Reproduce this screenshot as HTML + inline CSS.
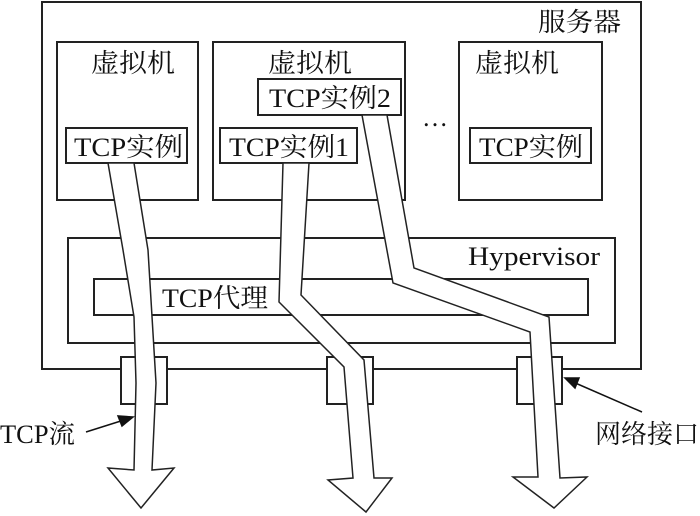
<!DOCTYPE html>
<html><head><meta charset="utf-8"><style>
html,body{margin:0;padding:0;background:#fff;}
svg{display:block;}
text{font-family:"Liberation Serif","Noto Serif CJK SC",serif;font-size:26px;fill:#111;}
</style></head><body>
<svg width="700" height="516" viewBox="0 0 700 516" xmlns="http://www.w3.org/2000/svg">
<g fill="none" stroke="#222" stroke-width="2">
<rect x="42" y="2" width="599" height="367"/>
<rect x="57" y="42" width="141" height="158"/>
<rect x="213" y="42" width="192" height="158"/>
<rect x="459" y="42" width="143" height="158"/>
<rect x="66" y="128" width="121" height="35" fill="#fff"/>
<rect x="220" y="128" width="137" height="35" fill="#fff"/>
<rect x="258" y="79" width="143" height="36" fill="#fff"/>
<rect x="470" y="128" width="121" height="35" fill="#fff"/>
<rect x="68" y="238" width="547" height="105"/>
<rect x="94" y="279" width="494" height="36"/>
<rect x="121" y="357" width="46" height="47" fill="#fff"/>
<rect x="327" y="357" width="46" height="47" fill="#fff"/>
<rect x="517" y="357" width="45" height="47" fill="#fff"/>
</g>
<g fill="#fff" stroke="#222" stroke-width="1.5" stroke-linejoin="miter">
<polygon points="108,163 123,250 134,317 136,383 134,470 108,468 141,508 174,468 152,470 156,383 148,250 134,163"/>
<polygon points="283,163 279,302 344,367 353,478 328,480 366,512 392,478 374,478 364,360 301,295 309,163"/>
<polygon points="362,115 393,283 530,332 538,477 513,477 554,508 587,477 560,478 549,317 414,268 387,115"/>
</g>
<g stroke="#111" stroke-width="1.5" fill="#111">
<line x1="86" y1="432" x2="124" y2="420"/>
<polygon points="133,417 118,416 122,426"/>
<line x1="642" y1="412" x2="573" y2="382"/>
<polygon points="565,378 575,388 579,378"/>
</g>
<g lengthAdjust="spacingAndGlyphs">
<text x="538" y="31" textLength="83" lengthAdjust="spacingAndGlyphs">服务器</text>
<text x="91" y="72" textLength="84" lengthAdjust="spacingAndGlyphs">虚拟机</text>
<text x="268" y="72" textLength="84" lengthAdjust="spacingAndGlyphs">虚拟机</text>
<text x="475" y="72" textLength="84" lengthAdjust="spacingAndGlyphs">虚拟机</text>
<text x="269" y="107" textLength="122" lengthAdjust="spacingAndGlyphs">TCP实例2</text>
<text x="74" y="156" textLength="109" lengthAdjust="spacingAndGlyphs">TCP实例</text>
<text x="229" y="156" textLength="120" lengthAdjust="spacingAndGlyphs">TCP实例1</text>
<text x="479" y="156" textLength="104" lengthAdjust="spacingAndGlyphs">TCP实例</text>
<text x="422" y="126">…</text>
<text x="468" y="265" textLength="132" lengthAdjust="spacingAndGlyphs">Hypervisor</text>
<text x="162" y="307" textLength="106" lengthAdjust="spacingAndGlyphs">TCP代理</text>
<text x="0" y="443" textLength="75" lengthAdjust="spacingAndGlyphs">TCP流</text>
<text x="595" y="443" textLength="104" lengthAdjust="spacingAndGlyphs">网络接口</text>
</g>
</svg>
</body></html>
